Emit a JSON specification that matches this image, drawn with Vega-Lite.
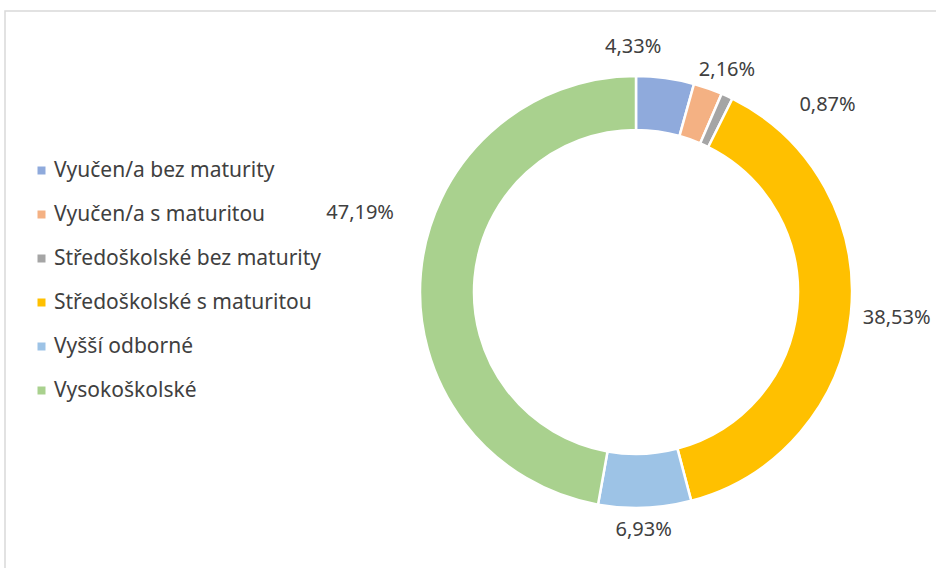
{
  "$schema": "https://vega.github.io/schema/vega-lite/v6.json",
  "width": 1262,
  "height": 562,
  "autosize": "none",
  "padding": {"left": 5, "top": 11, "right": -331, "bottom": -5},
  "background": "white",
  "view": {"stroke": "#D9D9D9", "strokeWidth": 1.5},
  "config": {
    "view": {"stroke": "#D9D9D9", "strokeWidth": 1.5},
    "locale": {"number": {"decimal": ",", "thousands": " ", "grouping": [3], "currency": ["", "%"]}},
    "text": {"font": "Noto Sans", "fontSize": 20, "color": "#404040"}
  },
  "data": {
    "values": [
      {"poradi": 1, "kategorie": "Vyučen/a bez maturity", "podil": 4.33},
      {"poradi": 2, "kategorie": "Vyučen/a s maturitou", "podil": 2.16},
      {"poradi": 3, "kategorie": "Středoškolské bez maturity", "podil": 0.87},
      {"poradi": 4, "kategorie": "Středoškolské s maturitou", "podil": 38.53},
      {"poradi": 5, "kategorie": "Vyšší odborné", "podil": 6.93},
      {"poradi": 6, "kategorie": "Vysokoškolské", "podil": 47.19}
    ]
  },
  "encoding": {
    "theta": {"field": "podil", "type": "quantitative", "stack": true},
    "order": {"field": "poradi", "type": "quantitative"}
  },
  "layer": [
    {
      "mark": {"type": "arc", "innerRadius": 162, "outerRadius": 216, "stroke": "white", "strokeWidth": 2.5},
      "encoding": {
        "color": {
          "field": "kategorie", "type": "nominal",
          "scale": {
            "domain": ["Vyučen/a bez maturity", "Vyučen/a s maturitou", "Středoškolské bez maturity", "Středoškolské s maturitou", "Vyšší odborné", "Vysokoškolské"],
            "range": ["#8FAADC", "#F4B183", "#A5A5A5", "#FFC000", "#9DC3E6", "#A9D18E"]
          },
          "legend": {
            "title": null, "orient": "none", "legendX": 26, "legendY": 149,
            "symbolType": "square", "symbolSize": 64, "symbolStrokeWidth": 0,
            "labelFont": "Noto Sans", "labelFontSize": 21, "labelColor": "#404040",
            "rowPadding": 22, "labelOffset": 2, "labelLimit": 400
          }
        }
      }
    },
    {
      "mark": {"type": "text", "radius": 245, "dx": -36, "dy": -2},
      "encoding": {"text": {"condition": {"test": "datum.poradi === 1", "field": "podil", "type": "quantitative", "format": "$.2f"}, "value": ""}}
    },
    {
      "mark": {"type": "text", "radius": 240, "dx": 11, "dy": 4},
      "encoding": {"text": {"condition": {"test": "datum.poradi === 2", "field": "podil", "type": "quantitative", "format": "$.2f"}, "value": ""}}
    },
    {
      "mark": {"type": "text", "radius": 267, "dx": 79, "dy": 55},
      "encoding": {"text": {"condition": {"test": "datum.poradi === 3", "field": "podil", "type": "quantitative", "format": "$.2f"}, "value": ""}}
    },
    {
      "mark": {"type": "text", "radius": 262, "dx": 0, "dy": -1},
      "encoding": {"text": {"condition": {"test": "datum.poradi === 4", "field": "podil", "type": "quantitative", "format": "$.2f"}, "value": ""}}
    },
    {
      "mark": {"type": "text", "radius": 238, "dx": -2, "dy": 0},
      "encoding": {"text": {"condition": {"test": "datum.poradi === 5", "field": "podil", "type": "quantitative", "format": "$.2f"}, "value": ""}}
    },
    {
      "mark": {"type": "text", "radius": 287, "dx": 10, "dy": -54},
      "encoding": {"text": {"condition": {"test": "datum.poradi === 6", "field": "podil", "type": "quantitative", "format": "$.2f"}, "value": ""}}
    }
  ]
}
